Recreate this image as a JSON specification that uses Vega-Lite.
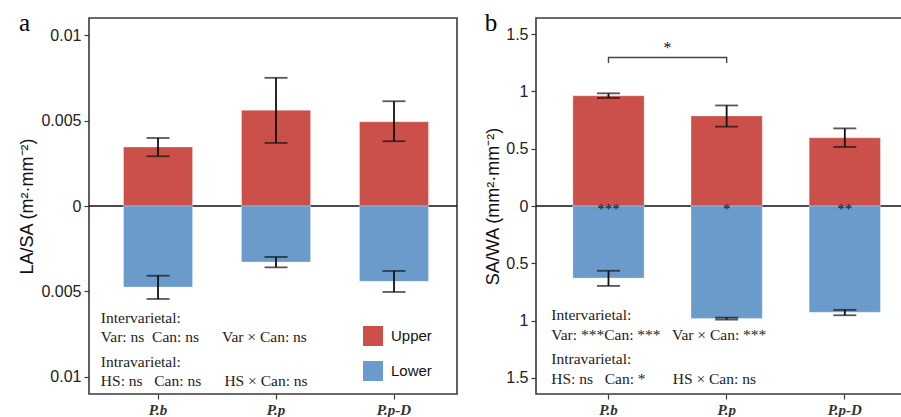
{
  "$schema": "https://vega.github.io/schema/vega-lite/v6.json",
  "padding": {"left": 18, "top": 10, "right": 0, "bottom": 0},
  "spacing": 24,
  "background": "white",
  "config": {
    "view": {"stroke": "#3a3a3a", "strokeWidth": 1.6},
    "axis": {"grid": false, "domain": false, "tickColor": "#3a3a3a", "tickWidth": 1.2, "tickSize": 5, "labelColor": "#222222", "titleColor": "#111111", "labelFont": "Liberation Sans", "titleFont": "Liberation Sans", "labelFontSize": 16, "titleFontSize": 18, "titleFontWeight": "normal", "labelPadding": 3},
    "title": {"anchor": "start", "frame": "bounds", "font": "Liberation Serif", "fontSize": 25, "fontWeight": "normal", "color": "#000000", "baseline": "alphabetic", "offset": -18}
  },
  "resolve": {"scale": {"x": "independent", "y": "independent", "color": "independent"}, "legend": {"color": "independent"}},
  "datasets": {
    "la": [
      {"var": "P.b", "pos": "Upper", "v": 0.00345, "lo": 0.00291, "hi": 0.00398},
      {"var": "P.p", "pos": "Upper", "v": 0.0056, "lo": 0.00369, "hi": 0.0075},
      {"var": "P.p-D", "pos": "Upper", "v": 0.00493, "lo": 0.00379, "hi": 0.00613},
      {"var": "P.b", "pos": "Lower", "v": -0.00474, "lo": -0.00544, "hi": -0.00408},
      {"var": "P.p", "pos": "Lower", "v": -0.00328, "lo": -0.00359, "hi": -0.00298},
      {"var": "P.p-D", "pos": "Lower", "v": -0.00441, "lo": -0.00503, "hi": -0.0038}
    ],
    "sa": [
      {"var": "P.b", "pos": "Upper", "v": 0.962, "lo": 0.942, "hi": 0.983},
      {"var": "P.p", "pos": "Upper", "v": 0.786, "lo": 0.692, "hi": 0.877},
      {"var": "P.p-D", "pos": "Upper", "v": 0.595, "lo": 0.515, "hi": 0.677},
      {"var": "P.b", "pos": "Lower", "v": -0.629, "lo": -0.697, "hi": -0.565},
      {"var": "P.p", "pos": "Lower", "v": -0.982, "lo": -0.991, "hi": -0.974},
      {"var": "P.p-D", "pos": "Lower", "v": -0.927, "lo": -0.953, "hi": -0.906}
    ],
    "notesA": [
      {"x": "P.b", "y": -0.00654, "t": "Intervarietal:"},
      {"x": "P.b", "y": -0.00767, "t": "Var: ns\u00a0 Can: ns\u00a0\u00a0\u00a0\u00a0\u00a0 Var × Can: ns"},
      {"x": "P.b", "y": -0.00911, "t": "Intravarietal:"},
      {"x": "P.b", "y": -0.01024, "t": "HS: ns\u00a0\u00a0 Can: ns\u00a0\u00a0\u00a0\u00a0\u00a0 HS × Can: ns"}
    ],
    "notesB": [
      {"x": "P.b", "y": -0.947, "t": "Intervarietal:"},
      {"x": "P.b", "y": -1.121, "t": "Var: ***Can: ***\u00a0\u00a0 Var × Can: ***"},
      {"x": "P.b", "y": -1.338, "t": "Intravarietal:"},
      {"x": "P.b", "y": -1.509, "t": "HS: ns\u00a0\u00a0 Can: *\u00a0\u00a0\u00a0\u00a0\u00a0\u00a0 HS × Can: ns"}
    ],
    "starsB": [
      {"var": "P.b", "z": 0, "s": "***"},
      {"var": "P.p", "z": 0, "s": "*"},
      {"var": "P.p-D", "z": 0, "s": "**"}
    ],
    "bracket": [
      {"var": "P.b", "y": 1.248, "o": 1},
      {"var": "P.b", "y": 1.295, "o": 2},
      {"var": "P.p", "y": 1.295, "o": 3},
      {"var": "P.p", "y": 1.248, "o": 4}
    ],
    "bracketStar": [{"var": "P.b", "y": 1.38, "s": "*"}],
    "zero": [{"z": 0}]
  },
  "hconcat": [
    {
      "width": 368,
      "height": 376,
      "title": {"text": "a"},
      "layer": [
        {
          "data": {"name": "zero"},
          "mark": {"type": "rule", "color": "#111111", "strokeWidth": 1.5},
          "encoding": {
            "y": {"field": "z", "type": "quantitative", "title": "LA/SA (m²·mm⁻²)", "scale": {"domain": [-0.011, 0.011], "nice": false}}
          }
        },
        {
          "data": {"name": "la"},
          "mark": {"type": "bar", "stroke": "white", "strokeWidth": 0.5, "strokeOpacity": 0.6},
          "encoding": {
            "x": {"field": "var", "type": "nominal", "title": null,
                  "scale": {"domain": ["P.b", "P.p", "P.p-D"], "paddingInner": 0.415, "paddingOuter": 0.267, "align": 0.548},
                  "axis": {"labelFont": "Liberation Serif", "labelFontStyle": "italic", "labelFontWeight": "bold", "labelFontSize": 15, "labelAngle": 0, "labelPadding": 3, "labelColor": "#333333"}},
            "y": {"field": "v", "type": "quantitative", "stack": null, "title": "LA/SA (m²·mm⁻²)",
                  "scale": {"domain": [-0.011, 0.011], "nice": false},
                  "axis": {"values": [-0.01, -0.005, 0, 0.005, 0.01], "labelExpr": "format(abs(datum.value), '~g')", "titlePadding": 4}},
            "color": {"field": "pos", "type": "nominal",
                      "scale": {"domain": ["Upper", "Lower"], "range": ["#CB5049", "#6A9BCA"]},
                      "legend": {"orient": "none", "legendX": 274, "legendY": 308, "title": null, "symbolType": "square", "symbolSize": 400, "symbolStrokeWidth": 0, "labelFontSize": 15, "labelFont": "Liberation Sans", "labelColor": "#111111", "rowPadding": 15, "labelOffset": 8}}
          }
        },
        {
          "data": {"name": "la"},
          "mark": {"type": "rule", "color": "#111111", "strokeWidth": 1.8},
          "encoding": {
            "x": {"field": "var", "type": "nominal", "title": null},
            "y": {"field": "lo", "type": "quantitative", "title": "LA/SA (m²·mm⁻²)"},
            "y2": {"field": "hi"}
          }
        },
        {
          "data": {"name": "la"},
          "mark": {"type": "tick", "color": "#111111", "thickness": 1.8, "size": 23},
          "encoding": {
            "x": {"field": "var", "type": "nominal", "title": null},
            "y": {"field": "lo", "type": "quantitative", "title": "LA/SA (m²·mm⁻²)"}
          }
        },
        {
          "data": {"name": "la"},
          "mark": {"type": "tick", "color": "#111111", "thickness": 1.8, "size": 23},
          "encoding": {
            "x": {"field": "var", "type": "nominal", "title": null},
            "y": {"field": "hi", "type": "quantitative", "title": "LA/SA (m²·mm⁻²)"}
          }
        },
        {
          "data": {"name": "notesA"},
          "mark": {"type": "text", "align": "left", "baseline": "middle", "font": "Liberation Serif", "fontSize": 15.5, "color": "#222222", "dx": -22.7},
          "encoding": {
            "x": {"field": "x", "type": "nominal", "title": null, "bandPosition": 0},
            "y": {"field": "y", "type": "quantitative", "title": "LA/SA (m²·mm⁻²)"},
            "text": {"field": "t"}
          }
        }
      ]
    },
    {
      "width": 369,
      "height": 376,
      "title": {"text": "b"},
      "layer": [
        {
          "data": {"name": "zero"},
          "mark": {"type": "rule", "color": "#111111", "strokeWidth": 1.5},
          "encoding": {
            "y": {"field": "z", "type": "quantitative", "title": "SA/WA (mm²·mm⁻²)", "scale": {"domain": [-1.64, 1.64], "nice": false}}
          }
        },
        {
          "data": {"name": "sa"},
          "mark": {"type": "bar", "stroke": "white", "strokeWidth": 0.5, "strokeOpacity": 0.6},
          "encoding": {
            "x": {"field": "var", "type": "nominal", "title": null,
                  "scale": {"domain": ["P.b", "P.p", "P.p-D"], "paddingInner": 0.397, "paddingOuter": 0.26, "align": 0.6},
                  "axis": {"labelFont": "Liberation Serif", "labelFontStyle": "italic", "labelFontWeight": "bold", "labelFontSize": 15, "labelAngle": 0, "labelPadding": 3, "labelColor": "#333333"}},
            "y": {"field": "v", "type": "quantitative", "stack": null, "title": "SA/WA (mm²·mm⁻²)",
                  "scale": {"domain": [-1.64, 1.64], "nice": false},
                  "axis": {"values": [-1.5, -1, -0.5, 0, 0.5, 1, 1.5], "labelExpr": "format(abs(datum.value), '~g')", "titlePadding": 3}},
            "color": {"field": "pos", "type": "nominal",
                      "scale": {"domain": ["Upper", "Lower"], "range": ["#CB5049", "#6A9BCA"]},
                      "legend": null}
          }
        },
        {
          "data": {"name": "sa"},
          "mark": {"type": "rule", "color": "#111111", "strokeWidth": 1.8},
          "encoding": {
            "x": {"field": "var", "type": "nominal", "title": null},
            "y": {"field": "lo", "type": "quantitative", "title": "SA/WA (mm²·mm⁻²)"},
            "y2": {"field": "hi"}
          }
        },
        {
          "data": {"name": "sa"},
          "mark": {"type": "tick", "color": "#111111", "thickness": 1.8, "size": 23},
          "encoding": {
            "x": {"field": "var", "type": "nominal", "title": null},
            "y": {"field": "lo", "type": "quantitative", "title": "SA/WA (mm²·mm⁻²)"}
          }
        },
        {
          "data": {"name": "sa"},
          "mark": {"type": "tick", "color": "#111111", "thickness": 1.8, "size": 23},
          "encoding": {
            "x": {"field": "var", "type": "nominal", "title": null},
            "y": {"field": "hi", "type": "quantitative", "title": "SA/WA (mm²·mm⁻²)"}
          }
        },
        {
          "data": {"name": "starsB"},
          "mark": {"type": "text", "align": "center", "baseline": "middle", "font": "Liberation Serif", "fontSize": 15, "color": "#111111", "dy": 3},
          "encoding": {
            "x": {"field": "var", "type": "nominal", "title": null},
            "y": {"field": "z", "type": "quantitative", "title": "SA/WA (mm²·mm⁻²)"},
            "text": {"field": "s"}
          }
        },
        {
          "data": {"name": "bracket"},
          "mark": {"type": "line", "color": "#444444", "strokeWidth": 1.4},
          "encoding": {
            "x": {"field": "var", "type": "nominal", "title": null},
            "y": {"field": "y", "type": "quantitative", "title": "SA/WA (mm²·mm⁻²)"},
            "order": {"field": "o", "type": "quantitative"}
          }
        },
        {
          "data": {"name": "bracketStar"},
          "mark": {"type": "text", "align": "center", "baseline": "middle", "font": "Liberation Serif", "fontSize": 16, "color": "#111111"},
          "encoding": {
            "x": {"field": "var", "type": "nominal", "title": null, "bandPosition": 1.33},
            "y": {"field": "y", "type": "quantitative", "title": "SA/WA (mm²·mm⁻²)"},
            "text": {"field": "s"}
          }
        },
        {
          "data": {"name": "notesB"},
          "mark": {"type": "text", "align": "left", "baseline": "middle", "font": "Liberation Serif", "fontSize": 15.5, "color": "#222222", "dx": -21.6},
          "encoding": {
            "x": {"field": "x", "type": "nominal", "title": null, "bandPosition": 0},
            "y": {"field": "y", "type": "quantitative", "title": "SA/WA (mm²·mm⁻²)"},
            "text": {"field": "t"}
          }
        }
      ]
    }
  ]
}
